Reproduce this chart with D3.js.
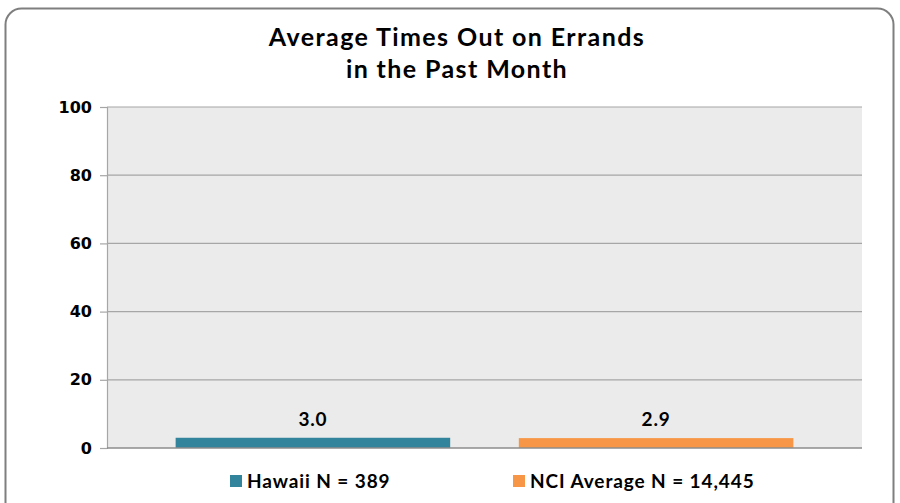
<!DOCTYPE html>
<html>
<head>
<meta charset="UTF-8">
<title>Average Times Out on Errands</title>
<style>
  body { margin: 0; background: #ffffff; }
  .title { font-family: Lato, sans-serif; font-weight: 700; font-size: 25px; letter-spacing: 1.4px; fill: #000; }
  .axis--y text { font-family: 'DejaVu Sans', Verdana, sans-serif; font-weight: 700; font-size: 16px; fill: #000; }
  .label { font-family: Lato, sans-serif; font-weight: 700; font-size: 19px; letter-spacing: 0.8px; fill: #000; }
  .legend text { font-family: Lato, sans-serif; font-weight: 700; font-size: 19px; letter-spacing: 0.9px; fill: #000; }
</style>
</head>
<body>
<script src="https://d3js.org/d3.v7.min.js"></script>
<script>
  const categories = ['Hawaii N = 389', 'NCI Average N = 14,445'];
  const values = [3.0, 2.9];
  const colors = ['#31849b', '#f79646'];
  const yTicks = [0, 20, 40, 60, 80, 100];

  const W = 900, H = 503;
  const plot = { left: 107, right: 862, top: 107, bottom: 448 };

  const svg = d3.select('body').append('svg')
      .attr('width', W)
      .attr('height', H);

  // outer frame
  svg.append('rect')
      .attr('x', 5.5).attr('y', 8.5)
      .attr('width', 888).attr('height', 520)
      .attr('rx', 16)
      .attr('fill', '#fff')
      .attr('stroke', '#7f7f7f')
      .attr('stroke-width', 2);

  // title
  const title = svg.append('text').attr('class', 'title').attr('text-anchor', 'middle');
  title.append('tspan').attr('x', 457).attr('y', 46).text('Average Times Out on Errands');
  title.append('tspan').attr('x', 457).attr('y', 78).text('in the Past Month');

  const x = d3.scaleBand()
      .domain(categories)
      .range([plot.left, plot.right])
      .paddingInner(0.2)
      .paddingOuter(0.2);

  const y = d3.scaleLinear()
      .domain([0, 100])
      .range([plot.bottom, plot.top]);

  // plot background
  svg.append('rect')
      .attr('x', plot.left).attr('y', plot.top)
      .attr('width', plot.right - plot.left)
      .attr('height', plot.bottom - plot.top)
      .attr('fill', '#ebebeb');

  // gridlines
  svg.append('g')
    .selectAll('line')
    .data(yTicks.filter(d => d > 0))
    .join('line')
      .attr('x1', plot.left).attr('x2', plot.right)
      .attr('y1', d => y(d)).attr('y2', d => y(d))
      .attr('stroke', '#a6a6a6')
      .attr('stroke-width', 1.2);

  // y axis
  const yAxis = svg.append('g')
      .attr('class', 'axis axis--y')
      .attr('transform', `translate(${plot.left},0)`)
      .call(d3.axisLeft(y).tickValues(yTicks).tickSize(7).tickPadding(8));
  yAxis.select('.domain').attr('stroke', '#a6a6a6').attr('stroke-width', 1.2);
  yAxis.selectAll('.tick line').attr('stroke', '#a6a6a6').attr('stroke-width', 1.2);

  // bars
  svg.append('g')
    .selectAll('rect')
    .data(values)
    .join('rect')
      .attr('x', (d, i) => x(categories[i]))
      .attr('y', d => y(d))
      .attr('width', x.bandwidth())
      .attr('height', d => y(0) - y(d))
      .attr('fill', (d, i) => colors[i]);

  // x baseline
  svg.append('line')
      .attr('x1', plot.left).attr('x2', plot.right)
      .attr('y1', plot.bottom).attr('y2', plot.bottom)
      .attr('stroke', '#8c8c8c')
      .attr('stroke-width', 1.5);

  // data labels
  svg.append('g')
    .selectAll('text')
    .data(values)
    .join('text')
      .attr('class', 'label')
      .attr('text-anchor', 'middle')
      .attr('x', (d, i) => x(categories[i]) + x.bandwidth() / 2)
      .attr('y', d => y(d) - 12)
      .text(d => d.toFixed(1));

  // legend
  const legendX = [230, 513];
  const legend = svg.append('g').attr('class', 'legend');
  const item = legend.selectAll('g')
    .data(categories)
    .join('g')
      .attr('transform', (d, i) => `translate(${legendX[i]},475)`);
  item.append('rect')
      .attr('width', 12).attr('height', 12)
      .attr('fill', (d, i) => colors[i]);
  item.append('text')
      .attr('x', 17).attr('y', 13)
      .text(d => d);
</script>
</body>
</html>
